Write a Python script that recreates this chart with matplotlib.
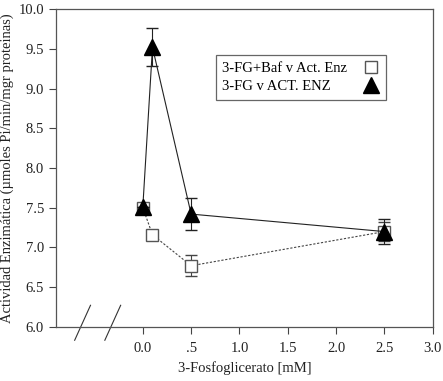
import matplotlib.pyplot as plt
from matplotlib.lines import Line2D

plt.rcParams['font.family'] = ['Liberation Serif', 'DejaVu Serif']

# data
conc = [0.0, 0.1, 0.5, 2.5]
act_baf = [7.50, 7.16, 6.77, 7.20]
err_baf = [0.0, 0.0, 0.13, 0.12]
act_fg = [7.51, 9.52, 7.42, 7.20]
err_fg = [0.0, 0.24, 0.20, 0.16]

xticks = [0.0, 0.5, 1.0, 1.5, 2.0, 2.5, 3.0]
xticklabels = ["0.0", ".5", "1.0", "1.5", "2.0", "2.5", "3.0"]
yticks = [6.0, 6.5, 7.0, 7.5, 8.0, 8.5, 9.0, 9.5, 10.0]

fig = plt.figure(figsize=(4.43, 3.81), dpi=100)
ax = fig.add_axes([0.126, 0.142, 0.851, 0.834])

ax.errorbar(conc, act_baf, yerr=err_baf, fmt='s', color='#444444',
            markerfacecolor='white', markeredgecolor='#555555', markersize=8,
            linestyle=(0, (2, 1.5)), linewidth=0.8, capsize=4, elinewidth=0.8,
            label='3-FG+Baf v Act. Enz', zorder=3)
ax.errorbar(conc, act_fg, yerr=err_fg, fmt='^', color='#222222',
            markerfacecolor='black', markeredgecolor='black', markersize=11,
            linestyle='-', linewidth=0.8, capsize=4, elinewidth=0.8,
            label='3-FG v ACT. ENZ', zorder=4)

ax.set_xlim(-0.9, 3.0)
ax.set_ylim(6.0, 10.0)
ax.set_xticks(xticks)
ax.set_xticklabels(xticklabels)
ax.set_yticks(yticks)
ax.set_yticklabels([f"{v:.1f}" for v in yticks])
ax.tick_params(direction='out', length=5, width=0.8, colors='#444444',
               labelsize=10.5, labelcolor='#222222')
ax.tick_params(axis='x', pad=6)

for s in ax.spines.values():
    s.set_color('#555555')
    s.set_linewidth(0.9)

ax.set_xlabel("3-Fosfoglicerato [mM]", fontsize=10.5, color='#222222', labelpad=4)
ax.set_ylabel("Actividad Enzimática (µmoles Pi/min/mgr proteinas)", fontsize=10.5,
              color='#222222', labelpad=3)

# axis break marks below the x axis
for x0 in (0.05, 0.13):
    ax.add_line(Line2D([x0, x0 + 0.042], [-0.042, 0.068], transform=ax.transAxes,
                       color='#333333', linewidth=0.8, clip_on=False))

h_baf = Line2D([], [], marker='s', linestyle='none', markerfacecolor='white',
               markeredgecolor='#555555', markersize=9)
h_fg = Line2D([], [], marker='^', linestyle='none', color='black', markersize=11)
leg = ax.legend([h_baf, h_fg], ['3-FG+Baf v Act. Enz', '3-FG v ACT. ENZ'],
                loc='upper left', bbox_to_anchor=(0.424, 0.855), borderaxespad=0,
                markerfirst=False, fancybox=False, framealpha=1,
                edgecolor='#666666', fontsize=10.5, handlelength=1.2,
                handletextpad=1.0, borderpad=0.45, labelspacing=0.35)
leg.get_frame().set_linewidth(0.9)

# keep the legend labels left aligned while markers sit on the right
fig.canvas.draw()
r = fig.canvas.get_renderer()
widths = [t.get_window_extent(r).width for t in leg.get_texts()]
column = leg._legend_handle_box.get_children()[0]
for row, w in zip(column.get_children(), widths):
    row.sep += (max(widths) - w) * 72 / fig.dpi

fig.savefig("out.png", dpi=100)
